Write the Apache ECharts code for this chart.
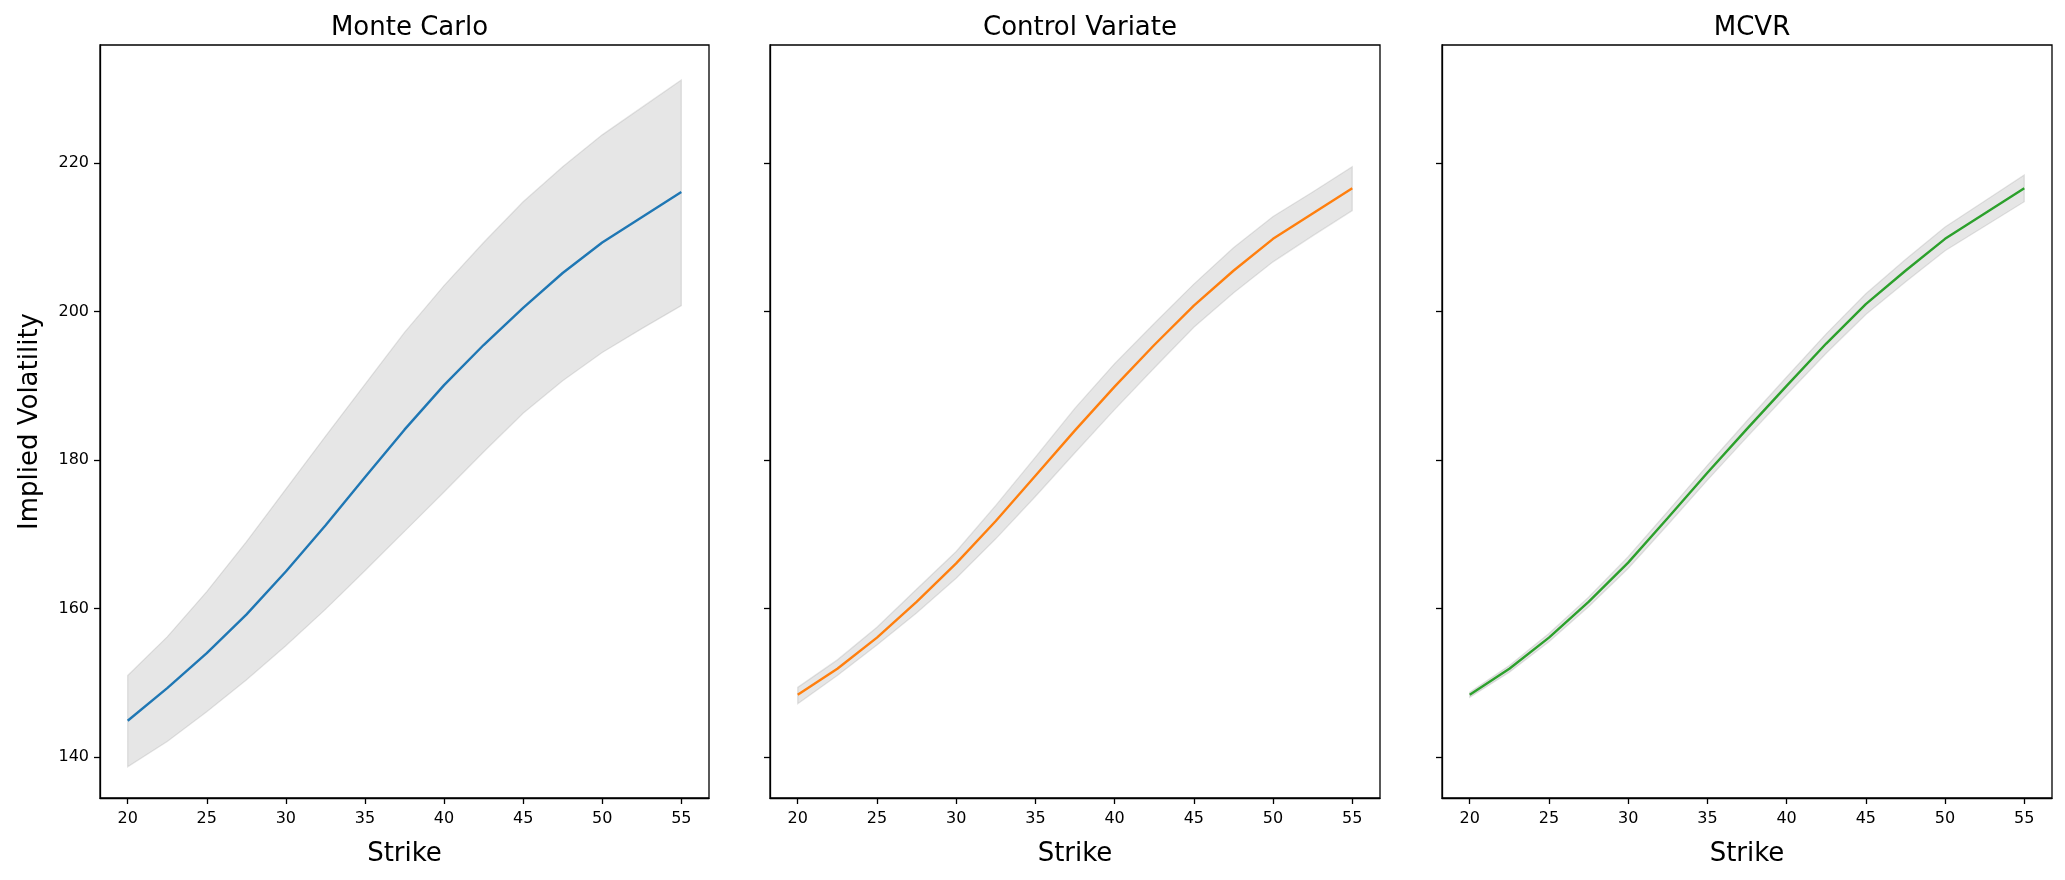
<!DOCTYPE html>
<html>
<head>
<meta charset="utf-8">
<script src="https://cdn.jsdelivr.net/npm/echarts@6/dist/echarts.min.js"></script>
<style>
html,body{margin:0;padding:0;background:#fff;}
#chart{width:2065px;height:880px;}
</style>
</head>
<body>
<div id="chart"></div>
<script>
// ---- data ----
const strikes = [20, 22.5, 25, 27.5, 30, 32.5, 35, 37.5, 40, 42.5, 45, 47.5, 50, 52.5, 55];

const mcMean  = [144.9, 149.3, 154.0, 159.2, 165.0, 171.2, 177.7, 184.1, 190.1, 195.5, 200.5, 205.2, 209.3, 212.7, 216.1];
const mcUpper = [151.0, 156.2, 162.3, 169.0, 176.1, 183.2, 190.2, 197.2, 203.5, 209.3, 214.8, 219.5, 223.8, 227.5, 231.2];
const mcLower = [138.7, 142.1, 146.1, 150.4, 155.0, 159.9, 165.1, 170.4, 175.7, 181.1, 186.3, 190.7, 194.5, 197.7, 200.8];

const cvMean  = [148.4, 151.9, 156.1, 160.9, 166.1, 171.8, 177.9, 184.0, 189.9, 195.5, 200.8, 205.5, 209.8, 213.2, 216.6];
const cvUpper = [149.4, 153.1, 157.5, 162.6, 167.7, 173.9, 180.4, 187.0, 193.0, 198.4, 203.7, 208.6, 212.8, 216.1, 219.5];
const cvLower = [147.2, 151.0, 155.1, 159.4, 164.1, 169.4, 175.1, 181.0, 186.8, 192.4, 197.9, 202.5, 206.7, 210.2, 213.6];

const mcvrMean  = [148.4, 151.9, 156.1, 160.9, 166.2, 172.2, 178.3, 184.2, 190.0, 195.7, 201.0, 205.5, 209.8, 213.2, 216.6];
const mcvrUpper = [148.75, 152.35, 156.65, 161.55, 167.0, 173.1, 179.3, 185.3, 191.2, 197.0, 202.4, 207.0, 211.4, 214.9, 218.4];
const mcvrLower = [148.05, 151.45, 155.55, 160.25, 165.4, 171.3, 177.3, 183.1, 188.8, 194.4, 199.6, 204.0, 208.2, 211.5, 214.8];

const xTicks = [20, 25, 30, 35, 40, 45, 50, 55];
const yTicks = [140, 160, 180, 200, 220];

const panelTitles = ['Monte Carlo', 'Control Variate', 'MCVR'];
const lineColors = ['#1f77b4', '#ff7f0e', '#2ca02c'];
const xName = 'Strike';
const yName = 'Implied Volatility';

// ---- layout ----
const FONT = 'DejaVu Sans';
const grids = [
  {left: 100, top: 45, width: 609, height: 753},
  {left: 770, top: 45, width: 610, height: 753},
  {left: 1442, top: 45, width: 610, height: 753}
];
const panels = [
  {mean: mcMean, up: mcUpper, lo: mcLower},
  {mean: cvMean, up: cvUpper, lo: cvLower},
  {mean: mcvrMean, up: mcvrUpper, lo: mcvrLower}
];

const chart = echarts.init(document.getElementById('chart'), null, {renderer: 'canvas'});

const option = {
  animation: false,
  backgroundColor: '#ffffff',
  textStyle: {fontFamily: FONT},
  title: panelTitles.map((t, i) => ({
    text: t,
    left: grids[i].left + grids[i].width / 2,
    top: 10,
    textAlign: 'center',
    textStyle: {fontFamily: FONT, fontSize: 26, fontWeight: 'normal', color: '#000'}
  })),
  grid: grids.map(g => Object.assign({
    show: true, borderColor: '#000', borderWidth: 1.3, backgroundColor: 'transparent', containLabel: false
  }, g)),
  xAxis: grids.map((g, i) => ({
    type: 'value', gridIndex: i, min: 18.25, max: 56.75,
    name: xName, nameLocation: 'middle', nameGap: 43,
    nameTextStyle: {fontFamily: FONT, fontSize: 26, color: '#000'},
    axisLine: {show: true, onZero: false, lineStyle: {color: '#000', width: 1.3}},
    axisTick: {show: true, inside: false, length: 6, customValues: xTicks, lineStyle: {color: '#000', width: 1.3}},
    axisLabel: {show: true, customValues: xTicks, margin: 13, fontFamily: FONT, fontSize: 16, color: '#000'},
    splitLine: {show: false}
  })),
  yAxis: grids.map((g, i) => ({
    type: 'value', gridIndex: i, min: 134.5, max: 235.9,
    name: i === 0 ? yName : '', nameLocation: 'middle', nameGap: 57,
    nameTextStyle: {fontFamily: FONT, fontSize: 26, color: '#000'},
    axisLine: {show: true, onZero: false, lineStyle: {color: '#000', width: 1.3}},
    axisTick: {show: true, inside: false, length: 6, customValues: yTicks, lineStyle: {color: '#000', width: 1.3}},
    axisLabel: {show: i === 0, customValues: yTicks, margin: 11, fontFamily: FONT, fontSize: 16, color: '#000'},
    splitLine: {show: false}
  })),
  series: []
};

panels.forEach((p, i) => {
  option.series.push({
    type: 'custom',
    xAxisIndex: i, yAxisIndex: i,
    silent: true,
    z: 1,
    data: [[strikes[0], p.lo[0]]],
    renderItem: function (params, api) {
      const pts = [];
      for (let k = 0; k < strikes.length; k++) pts.push(api.coord([strikes[k], p.up[k]]));
      for (let k = strikes.length - 1; k >= 0; k--) pts.push(api.coord([strikes[k], p.lo[k]]));
      return {
        type: 'polygon',
        shape: {points: pts},
        style: {fill: 'rgba(128,128,128,0.2)', stroke: 'rgba(128,128,128,0.2)', lineWidth: 1.3}
      };
    }
  });
  option.series.push({
    type: 'line',
    xAxisIndex: i, yAxisIndex: i,
    z: 3,
    showSymbol: false,
    symbol: 'none',
    data: strikes.map((s, k) => [s, p.mean[k]]),
    lineStyle: {color: lineColors[i], width: 2.4},
    itemStyle: {color: lineColors[i]}
  });
});

chart.setOption(option);
</script>
</body>
</html>
